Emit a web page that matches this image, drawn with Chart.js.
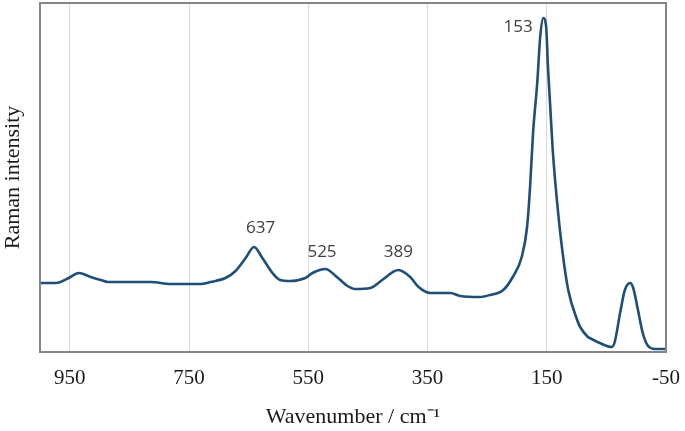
<!DOCTYPE html>
<html>
<head>
<meta charset="utf-8">
<script src="https://cdn.jsdelivr.net/npm/chart.js@4.4.0/dist/chart.umd.min.js"></script>
<style>
  html, body { margin: 0; padding: 0; background: #fff; }
  #wrap { width: 685px; height: 431px; }
</style>
</head>
<body>
<div id="wrap"><canvas id="raman" width="685" height="431"></canvas></div>
<script>
'use strict';

// Spectre Raman (nombre d'onde en cm-1, intensité relative)
const wavenumbers = [1000, 973, 952, 935, 915, 898, 886, 848, 814, 781, 731, 714, 689, 672, 655, 641, 627, 610, 597, 580,
    555, 543, 521, 504, 484, 471, 446, 426, 399, 379, 365, 345, 312, 295, 262, 245, 223, 207, 192, 183,
    178, 173, 166, 161, 156, 151, 148, 140, 133, 124, 114, 99, 94, 81, 78, 61, 41, 36, 27, 19,
    10, 5, -3, -11, -20, -32, -50];
const intensities = [69, 69, 74, 79, 75, 72, 70, 70, 70, 68, 68, 70, 74, 81, 94, 105, 94, 79, 72, 71,
    74, 79, 83, 76, 66, 63, 64, 72, 82, 75, 65, 59, 59, 56, 55, 57, 62, 75, 95, 125,
    165, 219, 269, 315, 334, 325, 285, 202, 152, 102, 62, 32, 25, 15, 14, 9, 5, 10, 39, 62,
    69, 64, 42, 19, 6, 3, 3];

// Graduations de l'axe des x
const xTicks = [950, 750, 550, 350, 150, -50];

// Étiquettes des pics (position du texte en nombre d'onde / intensité)
const peakLabels = ['637', '525', '389', '153'];
const labelX = [630, 527, 399, 198];
const labelY = [124, 100, 100, 325];

const points = wavenumbers.map((w, i) => ({ x: w, y: intensities[i] }));

// Cadre gris autour de la zone de tracé + étiquettes des pics
const decorPlugin = {
    id: 'decor',
    afterDatasetsDraw(chart) {
        const { ctx, chartArea, scales } = chart;
        ctx.save();
        ctx.strokeStyle = '#858585';
        ctx.lineWidth = 2;
        ctx.strokeRect(chartArea.left, chartArea.top, chartArea.right - chartArea.left, chartArea.bottom - chartArea.top);

        ctx.fillStyle = '#404040';
        ctx.font = '17px "Open Sans", sans-serif';
        ctx.textAlign = 'center';
        ctx.textBaseline = 'middle';
        peakLabels.forEach((txt, i) => {
            ctx.fillText(txt, scales.x.getPixelForValue(labelX[i]), scales.y.getPixelForValue(labelY[i]));
        });
        ctx.restore();
    }
};

const ctx = document.getElementById('raman').getContext('2d');
new Chart(ctx, {
    type: 'line',
    data: {
        datasets: [{
            label: 'Raman',
            data: points,
            borderColor: '#1f4e79',
            borderWidth: 2.6,
            pointRadius: 0,
            fill: false,
            cubicInterpolationMode: 'monotone'
        }]
    },
    options: {
        responsive: false,
        animation: false,
        layout: { padding: { top: 3, right: 19, left: 0, bottom: 0 } },
        plugins: {
            legend: { display: false },
            tooltip: { enabled: false }
        },
        scales: {
            x: {
                type: 'linear',
                min: -50,
                max: 1000,
                reverse: true,
                afterBuildTicks: scale => { scale.ticks = xTicks.map(v => ({ value: v })); },
                afterFit: scale => {
                    scale.height = 79;
                    scale.paddingLeft = 0;
                    scale.paddingRight = 0;
                },
                grid: { color: '#d9d9d9', lineWidth: 1, drawTicks: false },
                border: { display: false },
                ticks: {
                    color: '#1a1a1a',
                    padding: 14,
                    maxRotation: 0,
                    font: { family: '"Liberation Serif", serif', size: 21 }
                },
                title: {
                    display: true,
                    text: 'Wavenumber / cm\u207B\u00B9',
                    color: '#1a1a1a',
                    padding: { top: 0, bottom: 1 },
                    font: { family: '"Liberation Serif", serif', size: 22 }
                }
            },
            y: {
                min: 0,
                max: 349,
                afterFit: scale => { scale.width = 40; },
                grid: { display: false },
                border: { display: false },
                ticks: { display: false },
                title: {
                    display: true,
                    text: 'Raman intensity',
                    color: '#1a1a1a',
                    padding: { top: 0, bottom: 0 },
                    font: { family: '"Liberation Serif", serif', size: 22 }
                }
            }
        }
    },
    plugins: [decorPlugin]
});
</script>
</body>
</html>
